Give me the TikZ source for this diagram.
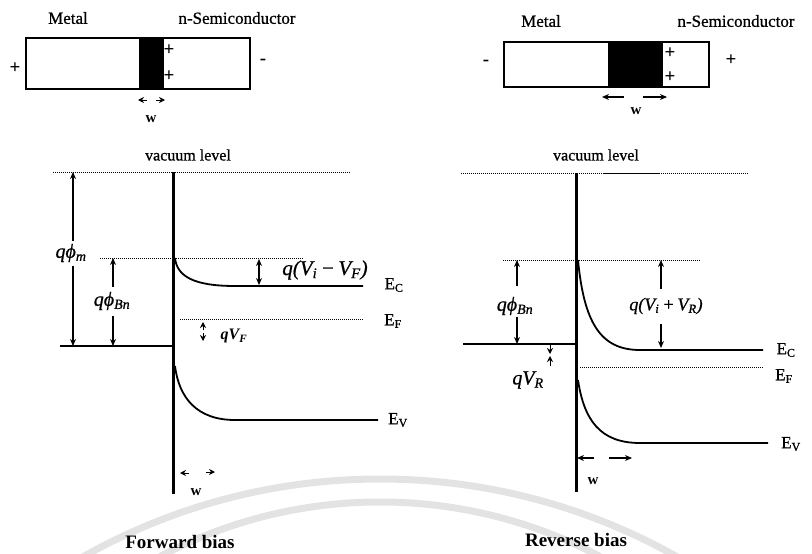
\documentclass[tikz,border=0pt]{standalone}
\usepackage{fontspec}
\setmainfont{Liberation Serif}
\usetikzlibrary{arrows.meta}
\newcommand\fsz[1]{\fontsize{#1}{#1}\selectfont}
\newcommand\heavy{\addfontfeature{FakeBold=0.8}}
\begin{document}
\begin{tikzpicture}[x=1pt,y=-1pt,
  lab/.style={inner sep=0pt, font=\fsz{17}\heavy},
  small/.style={inner sep=0pt, font=\fsz{16}\heavy},
  ital/.style={inner sep=0pt, font=\fsz{20}\itshape\heavy},
  elab/.style={inner sep=0pt, font=\fsz{17}\heavy},
  title/.style={inner sep=0pt, font=\fsz{19}\bfseries},
  sign/.style={inner sep=0pt, font=\fsz{19}\bfseries},
  wlab/.style={inner sep=0pt, font=\fsz{15}\bfseries},
  box/.style={draw, line width=1.8pt},
  iface/.style={line width=3pt},
  band/.style={line width=1.8pt},
  dotl/.style={line width=1pt, densely dotted},
  arr/.style={-{Stealth[length=7pt,width=6pt]}, line width=1.2pt},
  darr/.style={{Stealth[length=7pt,width=6pt]}-{Stealth[length=7pt,width=6pt]}, line width=1.2pt},
  tip/.style={-{Stealth[length=6pt,width=6pt]}, line width=1pt},
  wm/.style={gray!22, line width=7pt}
]
\useasboundingbox (0,0) rectangle (812,554);
% watermark arcs
\begin{scope}
\clip (0,0) rectangle (812,554);
\draw[wm] (380,1084) circle[radius=605pt];
\draw[wm] (380,972) circle[radius=470pt];
\end{scope}

% ================= LEFT TOP (forward) =================
\node[lab] (lmetal) at (68,18) {Metal};
\node[lab] (lsemi) at (237,18) {n-Semiconductor};
\coordinate (lb1) at (26,38); \coordinate (lb2) at (250,89);
\coordinate (ld1) at (139,38); \coordinate (ld2) at (164,89);
\fill (ld1) rectangle (ld2);
\draw[box] (lb1) rectangle (lb2);
\node[sign] (lp1) at (169,50) {+};
\node[sign] (lp2) at (169,76) {+};
\node[sign] (lpl) at (15,68) {+};
\node[sign] (lmi) at (263,62) {-};
\coordinate (lwa1) at (147,100); \coordinate (lwa2) at (138,100);
\coordinate (lwb1) at (156,100); \coordinate (lwb2) at (165,100);
\draw[tip] (lwa1) -- (lwa2);
\draw[tip] (lwb1) -- (lwb2);
\node[wlab] (lw) at (151,119) {w};

% ================= RIGHT TOP (reverse) =================
\node[lab] (rmetal) at (541,21) {Metal};
\node[lab] (rsemi) at (736,21) {n-Semiconductor};
\coordinate (rb1) at (504,42); \coordinate (rb2) at (709,87);
\coordinate (rd1) at (608,42); \coordinate (rd2) at (663,87);
\fill (rd1) rectangle (rd2);
\draw[box] (rb1) rectangle (rb2);
\node[sign] (rp1) at (670,53) {+};
\node[sign] (rp2) at (670,77) {+};
\node[sign] (rmi) at (486,63) {-};
\node[sign] (rpl) at (731,60) {+};
\coordinate (rwa1) at (624,97); \coordinate (rwa2) at (602,97);
\coordinate (rwb1) at (643,97); \coordinate (rwb2) at (667,97);
\draw[arr] (rwa1) -- (rwa2);
\draw[arr] (rwb1) -- (rwb2);
\node[wlab] (rw) at (636,111) {w};

% ================= LEFT BAND DIAGRAM =================
\node[small] (lvac) at (188,155) {vacuum level};
\coordinate (lv1) at (53,172); \coordinate (lv2) at (350,172);
\draw[dotl] (lv1) -- (lv2);
\coordinate (lit) at (173,172); \coordinate (lib) at (173,494);
\draw[iface] (lit) -- (lib);
% metal Fermi level
\coordinate (lm1) at (60,346); \coordinate (lm2) at (173,346);
\draw[band] (lm1) -- (lm2);
% barrier level
\coordinate (lbn1) at (100,258); \coordinate (lbn2) at (303,258);
\draw[dotl] (lbn1) -- (lbn2);
% Ec
\coordinate (lc0) at (175,258); \coordinate (lc1) at (235,286); \coordinate (lc2) at (363,286);
\draw[band] (lc0) .. controls (177,276) and (193,286) .. (lc1) -- (lc2);
\node[elab] (lec) at (394,285) {E\textsubscript{C}};
% EF
\coordinate (lf1) at (180,319); \coordinate (lf2) at (363,319);
\draw[dotl] (lf1) -- (lf2);
\node[elab] (lef) at (393,321) {E\textsubscript{F}};
% Ev
\coordinate (lv0) at (175,366); \coordinate (lva) at (235,420); \coordinate (lvb) at (378,420);
\draw[band] (lv0) .. controls (179,398) and (197,420) .. (lva) -- (lvb);
\node[elab] (lev) at (398,420) {E\textsubscript{V}};
% q phi_m
\node[ital] (lqm) at (71,253) {qϕ\textsubscript{m}};
\coordinate (lqmt) at (73,172); \coordinate (lqmb) at (73,346);
\draw[arr] (73,241) -- (lqmt);
\draw[arr] (73,266) -- (lqmb);
% q phi_Bn
\node[ital] (lqb) at (112,301) {qϕ\textsubscript{Bn}};
\coordinate (lqbt) at (113,258); \coordinate (lqbb) at (113,346);
\draw[arr] (113,287) -- (lqbt);
\draw[arr] (113,316) -- (lqbb);
% q(Vi - VF)
\coordinate (ldt) at (259,259); \coordinate (ldb) at (259,285);
\draw[darr] (ldt) -- (ldb);
\node[ital, font=\fsz{21}\itshape\heavy] (lvi) at (325,270) {q(V\textsubscript{i}\,−\,V\textsubscript{F})};
% q V_F
\coordinate (lqf1) at (203,330); \coordinate (lqf2) at (203,322);
\coordinate (lqf3) at (203,333); \coordinate (lqf4) at (203,341);
\draw[tip] (lqf1) -- (lqf2);
\draw[tip] (lqf3) -- (lqf4);
\node[ital, font=\fsz{16}\itshape\bfseries] (lqvf) at (234,336) {qV\textsubscript{F}};
% w
\coordinate (lwc1) at (189,473); \coordinate (lwc2) at (180,473);
\coordinate (lwd1) at (206,472); \coordinate (lwd2) at (215,472);
\draw[tip] (lwc1) -- (lwc2);
\draw[tip] (lwd1) -- (lwd2);
\node[wlab] (lw2) at (196,492) {w};
\node[title] (fb) at (180,542) {Forward bias};

% ================= RIGHT BAND DIAGRAM =================
\node[small] (rvac) at (596,155) {vacuum level};
\coordinate (rv1) at (461,173); \coordinate (rv2) at (749,173);
\coordinate (rvs1) at (603,173); \coordinate (rvs2) at (659,173);
\draw[dotl] (rv1) -- (rvs1);
\draw[line width=1pt] (rvs1) -- (rvs2);
\draw[dotl] (rvs2) -- (rv2);
\coordinate (rit) at (576,173); \coordinate (rib) at (576,492);
\draw[iface] (rit) -- (rib);
% metal Fermi level
\coordinate (rm1) at (463,344); \coordinate (rm2) at (576,344);
\draw[band] (rm1) -- (rm2);
% barrier level
\coordinate (rbn1) at (503,260); \coordinate (rbn2) at (700,260);
\draw[dotl] (rbn1) -- (rbn2);
% Ec
\coordinate (rc0) at (578,260); \coordinate (rc1) at (640,350); \coordinate (rc2) at (763,350);
\draw[band] (rc0) .. controls (584,322) and (600,350) .. (rc1) -- (rc2);
\node[elab] (rec) at (786,350) {E\textsubscript{C}};
% EF
\coordinate (rf1) at (580,367); \coordinate (rf2) at (763,367);
\draw[dotl] (rf1) -- (rf2);
\node[elab] (ref) at (784,376) {E\textsubscript{F}};
% Ev
\coordinate (rv0) at (578,380); \coordinate (rva) at (640,443); \coordinate (rvb) at (768,443);
\draw[band] (rv0) .. controls (584,420) and (600,443) .. (rva) -- (rvb);
\node[elab] (rev) at (791,444) {E\textsubscript{V}};
% q phi_Bn
\node[ital] (rqb) at (515,306) {qϕ\textsubscript{Bn}};
\coordinate (rqbt) at (517,260); \coordinate (rqbb) at (517,344);
\draw[arr] (517,286) -- (rqbt);
\draw[arr] (517,317) -- (rqbb);
% q(Vi + VR)
\node[ital, font=\fsz{18}\itshape\heavy] (rvi) at (666,306) {q(V\textsubscript{i}\,+\,V\textsubscript{R})};
\coordinate (rdt) at (661,260); \coordinate (rdb) at (661,348);
\draw[arr] (661,289) -- (rdt);
\draw[arr] (661,324) -- (rdb);
% q V_R
\coordinate (rqr1) at (550,344); \coordinate (rqr2) at (550,354);
\coordinate (rqr3) at (550,366); \coordinate (rqr4) at (550,356);
\draw[tip] (rqr1) -- (rqr2);
\draw[tip] (rqr3) -- (rqr4);
\node[ital] (rqvr) at (528,380) {qV\textsubscript{R}};
% w
\coordinate (rwc1) at (594,458); \coordinate (rwc2) at (577,458);
\coordinate (rwd1) at (609,458); \coordinate (rwd2) at (632,458);
\draw[arr] (rwc1) -- (rwc2);
\draw[arr] (rwd1) -- (rwd2);
\node[wlab] (rw2) at (593,481) {w};
\node[title] (rb) at (576,540) {Reverse bias};
\end{tikzpicture}
\end{document}
